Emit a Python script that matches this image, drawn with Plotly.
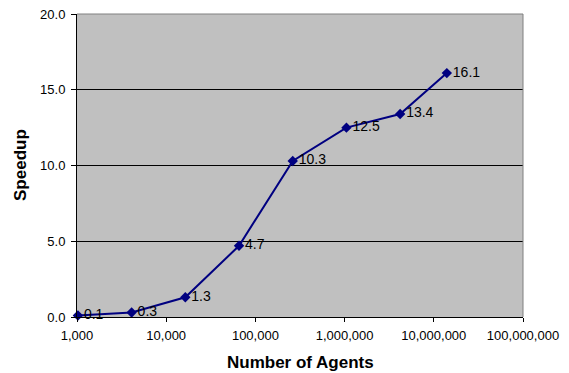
import plotly.graph_objects as go

agents = [1024, 4096, 16384, 65536, 262144, 1048576, 4194304, 14000000]
speedup = [0.1, 0.3, 1.3, 4.7, 10.3, 12.5, 13.4, 16.1]
labels = [f"{v:.1f}" for v in speedup]
x_tickvals = [1e3, 1e4, 1e5, 1e6, 1e7, 1e8]
x_ticktext = ["1,000", "10,000", "100,000", "1,000,000", "10,000,000", "100,000,000"]
y_tickvals = [0, 5, 10, 15, 20]
y_ticktext = ["0.0", "5.0", "10.0", "15.0", "20.0"]

FONT = "Liberation Sans, Arial"
W, H = 569, 373
L, R, T, B = 77, 46, 14, 56
pw, ph = W - L - R, H - T - B

fig = go.Figure(go.Scatter(
    x=agents, y=speedup, mode="lines+markers+text",
    text=labels, textposition="middle right",
    textfont=dict(family=FONT, size=14, color="black"),
    line=dict(color="#000080", width=2),
    marker=dict(symbol="diamond", size=8, color="#000080"),
    cliponaxis=False, showlegend=False,
))

fig.update_layout(
    width=W, height=H,
    margin=dict(l=L, r=R, t=T, b=B, autoexpand=False),
    paper_bgcolor="white", plot_bgcolor="#C0C0C0",
    font=dict(family=FONT, size=13, color="black"),
    xaxis=dict(type="log", range=[3, 8], tickvals=x_tickvals, ticktext=x_ticktext,
               showgrid=False, showline=True, linecolor="black", linewidth=1,
               ticks="outside", ticklen=4, tickcolor="black", zeroline=False,
               ticklabelstandoff=2, automargin=False),
    yaxis=dict(range=[0, 20], tickvals=y_tickvals, ticktext=y_ticktext,
               showgrid=True, gridcolor="black", gridwidth=1,
               showline=True, linecolor="black", linewidth=1,
               ticks="outside", ticklen=5, tickcolor="black", zeroline=False,
               ticklabelstandoff=3, automargin=False),
    annotations=[
        dict(text="<b>Number of Agents</b>", xref="paper", yref="paper",
             x=0.5, y=(T + ph - 362) / ph, xanchor="center", yanchor="middle",
             showarrow=False, font=dict(size=17)),
        dict(text="<b>Speedup</b>", xref="paper", yref="paper",
             x=(20 - L) / pw, y=(T + ph - 165) / ph, xanchor="center", yanchor="middle",
             textangle=-90, showarrow=False, font=dict(size=17)),
    ],
    shapes=[
        dict(type="line", xref="paper", yref="paper", x0=0, x1=1, y0=1, y1=1,
             line=dict(color="#808080", width=1)),
        dict(type="line", xref="paper", yref="paper", x0=1, x1=1, y0=0, y1=1,
             line=dict(color="#808080", width=1)),
    ],
)

fig.write_html("out.html")
